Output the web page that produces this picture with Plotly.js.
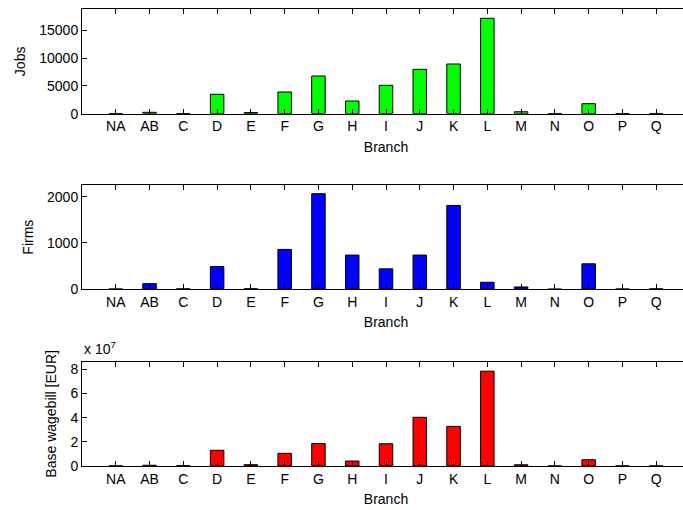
<!DOCTYPE html>
<html>
<head>
<meta charset="utf-8">
<script src="https://cdn.plot.ly/plotly-3.0.1.min.js"></script>
<style>
html,body{margin:0;padding:0;overflow:hidden;background:#fff;}
#chart{width:690px;height:510px;}
</style>
</head>
<body>
<div id="chart"></div>
<script>
const branches = ['NA','AB','C','D','E','F','G','H','I','J','K','L','M','N','O','P','Q'];
const jobs     = [20, 250, 30, 3490, 200, 3900, 6780, 2285, 5110, 7985, 8940, 17160, 350, 20, 1800, 30, 40];
const firms    = [8, 122, 10, 491, 12, 861, 2065, 739, 441, 739, 1811, 152, 50, 5, 550, 8, 10];
const wagebill = [0.01e7, 0.06e7, 0.03e7, 1.30e7, 0.11e7, 1.05e7, 1.86e7, 0.41e7, 1.84e7, 4.03e7, 3.28e7, 7.85e7, 0.10e7, 0.01e7, 0.52e7, 0.01e7, 0.01e7];
const jobsTicks = [0, 5000, 10000, 15000];
const jobsTickText = ['0', '5000', '10000', '15000'];
const firmsTicks = [0, 1000, 2000];
const firmsTickText = ['0', '1000', '2000'];
const wageTicks = [0, 2e7, 4e7, 6e7, 8e7];
const wageTickText = ['0', '2', '4', '6', '8'];

const FONT = {family: 'Liberation Sans, Arial, sans-serif', size: 14, color: '#000'};

function bar(y, color, xa, ya) {
  return {type: 'bar', x: branches, y: y, xaxis: xa, yaxis: ya, width: 0.4,
    marker: {color: color, line: {color: '#000', width: 1}}, hoverinfo: 'none'};
}

const xBase = {
  type: 'category', categoryorder: 'array', categoryarray: branches,
  range: [-1, 17], showline: true, linecolor: '#000', linewidth: 1, mirror: 'allticks',
  ticks: 'inside', ticklen: 5, tickcolor: '#000', showgrid: false, zeroline: false,
  title: {text: 'Branch', font: FONT, standoff: 8}, tickfont: FONT
};
function yBase(extra) {
  return Object.assign({
    showline: true, linecolor: '#000', linewidth: 1, mirror: 'allticks',
    ticks: 'inside', ticklen: 5, tickcolor: '#000', showgrid: false, zeroline: false,
    tickfont: FONT
  }, extra);
}

const data = [
  bar(jobs, '#00ff00', 'x', 'y'),
  bar(firms, '#0000ff', 'x2', 'y2'),
  bar(wagebill, '#ff0000', 'x3', 'y3')
];

const layout = {
  width: 690, height: 510,
  margin: {l: 82, r: 0, t: 9, b: 44},
  paper_bgcolor: '#fff', plot_bgcolor: '#fff',
  showlegend: false, font: FONT, bargap: 0,
  xaxis:  Object.assign({}, xBase, {anchor: 'y',  domain: [0, 1]}),
  xaxis2: Object.assign({}, xBase, {anchor: 'y2', domain: [0, 1]}),
  xaxis3: Object.assign({}, xBase, {anchor: 'y3', domain: [0, 1]}),
  yaxis:  yBase({anchor: 'x',  domain: [0.7709, 1.0], range: [0, 18830], tickvals: jobsTicks, ticktext: jobsTickText,
                 title: {text: 'Jobs', font: FONT, standoff: 10}}),
  yaxis2: yBase({anchor: 'x2', domain: [0.3867, 0.6149], range: [0, 2253], tickvals: firmsTicks, ticktext: firmsTickText,
                 title: {text: 'Firms', font: FONT, standoff: 10}}),
  yaxis3: yBase({anchor: 'x3', domain: [0, 0.2282], range: [0, 8.63e7], tickvals: wageTicks, ticktext: wageTickText,
                 title: {text: 'Base wagebill [EUR]', font: FONT, standoff: 10}}),
  annotations: [{
    xref: 'paper', yref: 'paper', x: 0, y: 0.2282, xanchor: 'left', yanchor: 'bottom',
    text: 'x 10<sup>7</sup>', showarrow: false, font: FONT, yshift: 3
  }]
};

Plotly.newPlot('chart', data, layout, {staticPlot: true, displayModeBar: false});
</script>
</body>
</html>
